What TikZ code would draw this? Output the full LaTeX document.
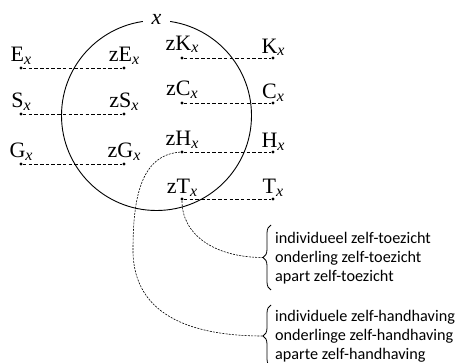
\documentclass[tikz,border=0pt]{standalone}
\usepackage{fontspec}
\setmainfont{Liberation Serif}
\newfontfamily\calibri{Carlito}
\usetikzlibrary{decorations.pathreplacing,positioning}
\newcommand{\subx}{\raisebox{-2.5pt}{\fontsize{16}{16}\selectfont\itshape x}}

\begin{document}
\begin{tikzpicture}[x=1pt,y=-1pt]
	\useasboundingbox (0,0) rectangle (456,363);
	\clip (0,0) rectangle (456,363);

	\tikzstyle{dot}=[circle,fill,inner sep=0pt,minimum size=3.4pt]
	\tikzstyle{dotname}=[anchor=base,inner sep=0pt,font=\fontsize{22}{22}\selectfont]
	\tikzstyle{link}=[dash pattern=on 3.5pt off 2.2pt,line width=0.9pt]
	\tikzstyle{bend line}=[dash pattern=on 2pt off 1.2pt,line width=0.6pt]
	\tikzstyle{listbox}=[anchor=west,inner sep=0pt,align=left,font=\calibri\fontsize{16.2}{18.8}\selectfont]
	\tikzstyle{bracket}=[decorate,decoration={brace,amplitude=8pt,aspect=0.5},line width=0.8pt]

	% The circle of x, its name sits in a gap at the top.
	\node[circle,draw,line width=0.9pt,minimum size=190pt,inner sep=0pt] (circ) at (156.5,115.5) {};
	\node[fill=white,inner xsep=9pt,inner ysep=2pt,font=\fontsize{22}{22}\selectfont\itshape] (x-name) at ([yshift=1pt]circ.north) {x};

	% Left pairs: outside and inside the circle.
	\node[dot] (E) at (21,68) {};
	\node[dot] (zE) at (124,68) {};
	\node[dot] (S) at (21,114) {};
	\node[dot] (zS) at (124,114) {};
	\node[dot] (G) at (21,164) {};
	\node[dot] (zG) at (124,164) {};

	% Right pairs: inside and outside the circle.
	\node[dot] (zK) at (182,58) {};
	\node[dot] (K) at (273,58) {};
	\node[dot] (zC) at (182,103) {};
	\node[dot] (C) at (273,103) {};
	\node[dot] (zH) at (182,152) {};
	\node[dot] (H) at (273,152) {};
	\node[dot] (zT) at (182,199) {};
	\node[dot] (T) at (273,199) {};

	% Names above the dots.
	\node[dotname] (E-name) at ([yshift=6pt]E.center) {E\subx};
	\node[dotname] (zE-name) at ([yshift=6pt]zE.center) {zE\subx};
	\node[dotname] (S-name) at ([yshift=6pt]S.center) {S\subx};
	\node[dotname] (zS-name) at ([yshift=6pt]zS.center) {zS\subx};
	\node[dotname] (G-name) at ([yshift=6pt]G.center) {G\subx};
	\node[dotname] (zG-name) at ([yshift=6pt]zG.center) {zG\subx};
	\node[dotname] (zK-name) at ([yshift=7.5pt]zK.center) {zK\subx};
	\node[dotname] (K-name) at ([yshift=4.5pt]K.center) {K\subx};
	\node[dotname] (zC-name) at ([yshift=7pt]zC.center) {zC\subx};
	\node[dotname] (C-name) at ([yshift=4pt]C.center) {C\subx};
	\node[dotname] (zH-name) at ([yshift=6pt]zH.center) {zH\subx};
	\node[dotname] (H-name) at ([yshift=4pt]H.center) {H\subx};
	\node[dotname] (zT-name) at ([yshift=5pt]zT.center) {zT\subx};
	\node[dotname] (T-name) at ([yshift=5pt]T.center) {T\subx};

	% Dashed links between the pairs.
	\draw[link] (E) -- (zE);
	\draw[link] (S) -- (zS);
	\draw[link] (G) -- (zG);
	\draw[link] (zK) -- (K);
	\draw[link] (zC) -- (C);
	\draw[link] (zH) -- (H);
	\draw[link] (zT) -- (T);

	% The two lists, each with a brace on its left.
	\node[listbox] (toezicht) at (275,258) {individueel zelf-toezicht\\onderling zelf-toezicht\\apart zelf-toezicht};
	\node[listbox] (handhaving) at (275,336) {individuele zelf-handhaving\\onderlinge zelf-handhaving\\aparte zelf-handhaving};
	\draw[bracket] (271,290) -- (271,225);
	\draw[bracket] (271,367) -- (271,305);
	\coordinate (toezicht-tip) at (263,257.5);
	\coordinate (handhaving-tip) at (263,336);

	% Bent links from zT and zH down to the braces.
	\draw[bend line] (zT) .. controls (182,235) and (215,257.5) .. (toezicht-tip);
	\draw[bend line] (zH) .. controls (140,155) and (133,200) .. (133,250) .. controls (133,320) and (200,336) .. (handhaving-tip);
\end{tikzpicture}
\end{document}
